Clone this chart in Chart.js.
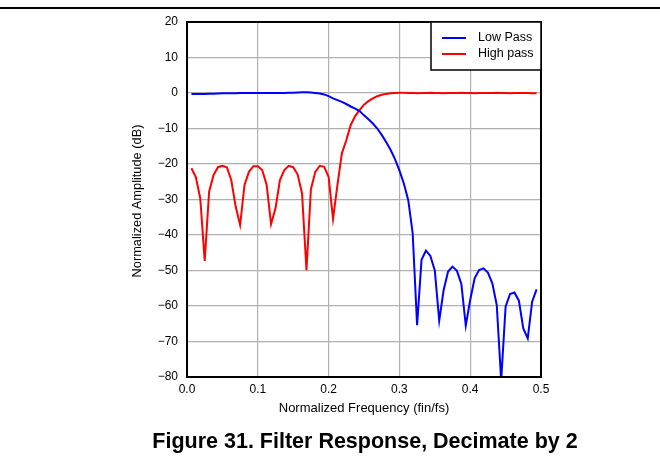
<!DOCTYPE html>
<html>
<head>
<meta charset="utf-8">
<script src="https://cdn.jsdelivr.net/npm/chart.js@4"></script>
<style>
  html, body { margin: 0; padding: 0; background: #fff; }
  #wrap { width: 660px; height: 459px; }
</style>
</head>
<body>
<div id="wrap"><canvas id="filterChart" width="660" height="459"></canvas></div>
<script>
// ================= DATA =================
const freq = [
  0.00625, 0.0125, 0.01875, 0.025, 0.03125, 0.0375, 0.04375, 0.05, 0.05625, 0.0625,
  0.06875, 0.075, 0.08125, 0.0875, 0.09375, 0.1, 0.10625, 0.1125, 0.11875, 0.125,
  0.13125, 0.1375, 0.14375, 0.15, 0.15625, 0.1625, 0.16875, 0.175, 0.18125, 0.1875,
  0.19375, 0.2, 0.20625, 0.2125, 0.21875, 0.225, 0.23125, 0.2375, 0.24375, 0.25,
  0.25625, 0.2625, 0.26875, 0.275, 0.28125, 0.2875, 0.29375, 0.3, 0.30625, 0.3125,
  0.31875, 0.325, 0.33125, 0.3375, 0.34375, 0.35, 0.35625, 0.3625, 0.36875, 0.375,
  0.38125, 0.3875, 0.39375, 0.4, 0.40625, 0.4125, 0.41875, 0.425, 0.43125, 0.4375,
  0.44375, 0.45, 0.45625, 0.4625, 0.46875, 0.475, 0.48125, 0.4875, 0.49375
];

const lowPass = [
  -0.3, -0.3, -0.3, -0.25, -0.2, -0.2, -0.15, -0.1, -0.1, -0.05,
  -0.05, 0, 0, 0, 0, 0, 0, 0, 0, 0,
  0, 0, 0.05, 0.1, 0.15, 0.2, 0.2, 0.15, 0, -0.15,
  -0.4, -0.9, -1.5, -2.0, -2.5, -3.1, -3.8, -4.4, -5.1, -6.3,
  -7.4, -8.6, -10.0, -11.8, -13.8, -16.0, -18.6, -21.8, -25.5, -30.2,
  -39.5, -65.4, -47, -44.4, -45.9, -50, -64.1, -55.5, -50.3, -48.9,
  -50.1, -53.8, -65.5, -58.3, -52.2, -49.9, -49.4, -50.6, -53.6, -59.7,
  -81, -60.2, -56.6, -56.2, -58.5, -66.3, -69.1, -58.8, -55.3
];

const highPass = [
  -21.2, -23.7, -29.7, -47.3, -27.8, -23.1, -20.9, -20.5, -20.9, -24.5,
  -32, -37.2, -25.9, -22.2, -20.6, -20.6, -21.7, -25.9, -36.9, -32.5,
  -24.5, -21.7, -20.5, -20.9, -22.9, -28.3, -49.9, -27.1, -22.2, -20.5,
  -20.8, -23.6, -35.5, -25.9, -17, -13.3, -9, -6.5, -4.8, -3.3,
  -2.3, -1.5, -0.9, -0.5, -0.25, -0.1, 0, 0.05, 0.05, 0,
  0, -0.05, 0, 0, 0.05, 0, 0, -0.05, 0, 0,
  0, 0.05, 0, 0, -0.05, 0, 0, 0, 0, 0.05,
  0, 0, -0.05, 0, 0, 0, 0, -0.05, -0.1
];

const seriesNames = ["Low Pass", "High pass"];
const seriesColors = ["#0000ff", "#ff0000"];

const xTitle = "Normalized Frequency (fin/fs)";
const yTitle = "Normalized Amplitude (dB)";
const caption = "Figure 31. Filter Response, Decimate by 2";

const FONT = "'Liberation Sans', Arial, sans-serif";

function toPoints(ys) {
  return ys.map((y, i) => ({ x: freq[i], y: y }));
}

// ================= EXTRAS (titles, frame, legend) =================
const extras = {
  id: "extras",
  afterDatasetsDraw(chart) {
    const c = chart.ctx;
    const a = chart.chartArea;
    c.save();

    // plot frame
    c.strokeStyle = "#000";
    c.lineWidth = 2;
    c.strokeRect(a.left, a.top, a.right - a.left, a.bottom - a.top);

    // legend box
    const lx = 431, ly = a.top, lw = a.right - 431, lh = 48;
    c.fillStyle = "#fff";
    c.fillRect(lx, ly, lw, lh);
    c.lineWidth = 1.5;
    c.strokeRect(lx, ly, lw, lh);
    c.font = "12.5px " + FONT;
    c.textBaseline = "middle";
    c.textAlign = "left";
    chart.data.datasets.forEach((ds, i) => {
      const yy = ly + 16 + i * 16;
      c.strokeStyle = ds.borderColor;
      c.lineWidth = 2;
      c.beginPath();
      c.moveTo(442, yy);
      c.lineTo(466, yy);
      c.stroke();
      c.fillStyle = "#000";
      c.fillText(ds.label, 478, yy);
    });

    // top rule of the page
    c.strokeStyle = "#000";
    c.lineWidth = 2;
    c.beginPath();
    c.moveTo(0, 8);
    c.lineTo(660, 8);
    c.stroke();

    // axis titles
    c.fillStyle = "#000";
    c.font = "13px " + FONT;
    c.textAlign = "center";
    c.textBaseline = "middle";
    c.fillText(xTitle, 364, 408);
    c.save();
    c.translate(137, 201);
    c.rotate(-Math.PI / 2);
    c.font = "12.8px " + FONT;
    c.fillText(yTitle, 0, 0);
    c.restore();

    // caption
    c.font = "bold 21.5px " + FONT;
    c.fillText(caption, 365, 442);

    c.restore();
  }
};

// ================= CHART =================
const ctx = document.getElementById("filterChart");

new Chart(ctx, {
  type: "line",
  data: {
    datasets: [
      {
        label: seriesNames[0],
        data: toPoints(lowPass),
        borderColor: seriesColors[0],
        borderWidth: 2,
        pointRadius: 0,
        tension: 0,
        fill: false
      },
      {
        label: seriesNames[1],
        data: toPoints(highPass),
        borderColor: seriesColors[1],
        borderWidth: 2,
        pointRadius: 0,
        tension: 0,
        fill: false
      }
    ]
  },
  options: {
    responsive: false,
    animation: false,
    events: [],
    layout: { padding: { left: 0, right: 119, top: 22, bottom: 0 } },
    plugins: {
      legend: { display: false },
      tooltip: { enabled: false }
    },
    scales: {
      x: {
        type: "linear",
        min: 0,
        max: 0.5,
        afterFit(scale) { scale.height = 82; },
        ticks: {
          stepSize: 0.1,
          padding: 5,
          color: "#000",
          font: { family: FONT, size: 12 },
          callback: v => v.toFixed(1)
        },
        grid: { color: "#b0b0b0", lineWidth: 1.2, drawTicks: false },
        border: { color: "#000", width: 2 }
      },
      y: {
        type: "linear",
        min: -80,
        max: 20,
        afterFit(scale) { scale.width = 187; },
        ticks: {
          stepSize: 10,
          padding: 9,
          color: "#000",
          font: { family: FONT, size: 12 },
          callback: v => String(v).replace("-", "\u2212")
        },
        grid: { color: "#b0b0b0", lineWidth: 1.2, drawTicks: false },
        border: { color: "#000", width: 2 }
      }
    }
  },
  plugins: [extras]
});
</script>
</body>
</html>
